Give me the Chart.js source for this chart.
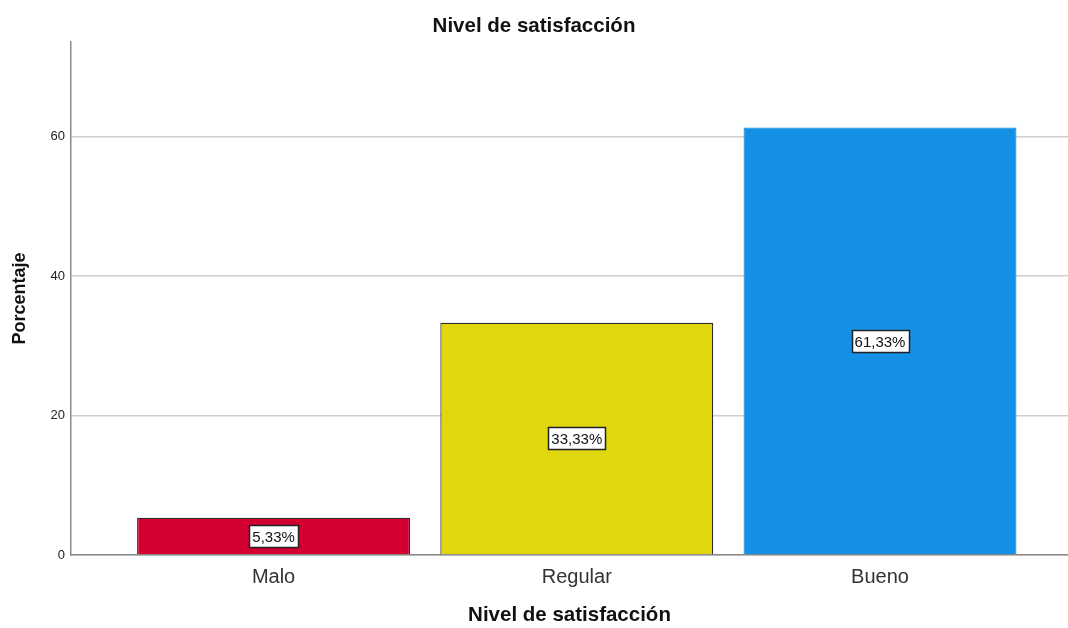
<!DOCTYPE html>
<html>
<head>
<meta charset="utf-8">
<script src="https://cdn.jsdelivr.net/npm/chart.js@4"></script>
<style>
  html, body { margin: 0; padding: 0; background: #fff; }
  #wrap { width: 1068px; height: 628px; }
</style>
</head>
<body>
<div id="wrap"><canvas id="myChart"></canvas></div>
<script>
const categories = ['Malo', 'Regular', 'Bueno'];
const percentages = [5.33, 33.33, 61.33];
const barColors = ['#d50032', '#e1d70f', '#1490e6'];
const yTicks = [0, 20, 40, 60];

// white value boxes in the middle of each bar
const boxLabels = {
  id: 'boxLabels',
  afterDatasetsDraw(chart) {
    const c = chart.ctx;
    const meta = chart.getDatasetMeta(0);
    c.save();
    c.font = '15px "Liberation Sans", Arial, sans-serif';
    c.textAlign = 'center';
    c.textBaseline = 'middle';
    meta.data.forEach((bar, i) => {
      const txt = percentages[i].toFixed(2).replace('.', ',') + '%';
      const w = Math.round(c.measureText(txt).width + 6);
      const h = 22;
      const x0 = Math.round(bar.x - w / 2) + 0.5;
      const y0 = Math.round((bar.y + bar.base) / 2 - h / 2) + 0.5;
      c.fillStyle = '#fff';
      c.fillRect(x0, y0, w, h);
      c.strokeStyle = '#222';
      c.lineWidth = 1.5;
      c.strokeRect(x0, y0, w, h);
      c.fillStyle = '#111';
      c.fillText(txt, bar.x, y0 + h / 2 + 1);
    });
    c.restore();
  }
};

const ctx = document.getElementById('myChart');

new Chart(ctx, {
  type: 'bar',
  data: {
    datasets: [{
      label: 'Porcentaje',
      data: percentages.map((v, i) => ({ x: i, y: v })),
      backgroundColor: barColors,
      borderColor: ['#2a2a2a', '#2a2a2a', '#1490e6'],
      borderWidth: 1.2,
      categoryPercentage: 1,
      barPercentage: 0.9
    }]
  },
  options: {
    responsive: true,
    maintainAspectRatio: false,
    animation: false,
    layout: { padding: 0 },
    plugins: {
      legend: { display: false },
      tooltip: { enabled: false },
      title: {
        display: true,
        text: 'Nivel de satisfacción',
        color: '#111',
        font: { family: '"Liberation Sans", Arial, sans-serif', size: 20.5, weight: 'bold' },
        padding: { top: 14, bottom: 3.4 }
      }
    },
    scales: {
      x: {
        type: 'linear',
        offset: false,
        min: -0.668,
        max: 2.62,
        afterBuildTicks: s => { s.ticks = categories.map((_, i) => ({ value: i })); },
        afterFit: s => { s.height = 73; },
        grid: { display: false, drawTicks: false },
        border: { display: true, color: '#8a8a8a', width: 1.5 },
        ticks: {
          padding: 10,
          color: '#333',
          font: { family: '"Liberation Sans", Arial, sans-serif', size: 20 },
          callback: v => categories[v]
        },
        title: {
          display: true,
          text: 'Nivel de satisfacción',
          color: '#111',
          font: { family: '"Liberation Sans", Arial, sans-serif', size: 20.5, weight: 'bold' },
          padding: { top: 0, bottom: 0 }
        }
      },
      y: {
        min: 0,
        max: 73.6,
        afterBuildTicks: s => { s.ticks = yTicks.map(v => ({ value: v })); },
        afterFit: s => { s.width = 71; },
        grid: { color: '#cfcfcf', lineWidth: 1.5, drawTicks: false },
        border: { display: true, color: '#8a8a8a', width: 1.5 },
        ticks: {
          padding: 6,
          color: '#222',
          font: { family: '"Liberation Sans", Arial, sans-serif', size: 13 }
        },
        title: {
          display: true,
          text: 'Porcentaje',
          color: '#111',
          font: { family: '"Liberation Sans", Arial, sans-serif', size: 18, weight: 'bold' },
          padding: { top: 9, bottom: 0 }
        }
      }
    }
  },
  plugins: [boxLabels]
});
</script>
</body>
</html>
